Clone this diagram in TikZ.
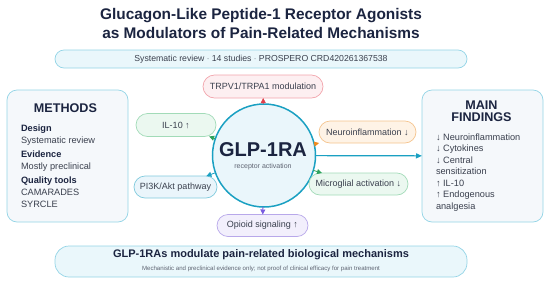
\documentclass[tikz,border=0pt]{standalone}
\usepackage{fontspec}
\setmainfont{Liberation Sans}
\usetikzlibrary{arrows.meta}
\definecolor{navy}{HTML}{1B2440}
\definecolor{txtgray}{HTML}{3A404E}
\definecolor{softgray}{HTML}{5E6472}
\definecolor{cyanline}{HTML}{93D4E6}
\definecolor{cyanfill}{HTML}{EAF7FB}
\definecolor{panelfill}{HTML}{F5F8FB}
\definecolor{glpteal}{HTML}{1AA0C2}
\definecolor{glpfill}{HTML}{EAF6FB}
\definecolor{greenline}{HTML}{A2DBB8}
\definecolor{greenfill}{HTML}{EBF8F0}
\definecolor{greentip}{HTML}{2CA25C}
\definecolor{tealline}{HTML}{80CADD}
\definecolor{tealfill}{HTML}{EAF5FB}
\definecolor{redline}{HTML}{F2A4AC}
\definecolor{redfill}{HTML}{FDEFF1}
\definecolor{redtip}{HTML}{E0404C}
\definecolor{orangeline}{HTML}{F5C48E}
\definecolor{orangefill}{HTML}{FEF3E6}
\definecolor{orangetip}{HTML}{F08A1C}
\definecolor{purpleline}{HTML}{B8A8EA}
\definecolor{purplefill}{HTML}{F2EFFC}
\definecolor{purpletip}{HTML}{7A5CE0}
\begin{document}
\begin{tikzpicture}[x=1pt, y=-1pt,
    every node/.style={inner sep=0pt, outer sep=0pt},
    pill/.style={draw, line width=0.7pt, rounded corners=11pt, minimum height=22pt, font=\fontsize{9}{10}\selectfont, text=txtgray},
    panel/.style={draw=cyanline, fill=panelfill, line width=0.7pt, rounded corners=10pt, minimum width=121pt, minimum height=132pt},
    tipline/.style={-{Triangle[length=5pt,width=5pt]}, line width=0.8pt}]
    \useasboundingbox (0,0) rectangle (550,285);

    % title and study banner
    \node[align=center, text=navy, font=\fontsize{15.4}{19}\selectfont\bfseries] (title) at (261,23.5)
        {Glucagon-Like Peptide-1 Receptor Agonists\\as Modulators of Pain-Related Mechanisms};
    \node[draw=cyanline, fill=cyanfill, line width=0.7pt, rounded corners=9pt, minimum width=412pt, minimum height=18pt,
        text=txtgray, font=\fontsize{8.7}{10}\selectfont] (banner) at (261,59)
        {Systematic review $\cdot$ 14 studies $\cdot$ PROSPERO CRD420261367538};

    % methods panel
    \node[panel] (methods) at (67.5,156) {};
    \node[text=navy, font=\fontsize{12.6}{14}\selectfont\bfseries] (methodstitle) at (65.5,108) {METHODS};
    \node[anchor=north west, align=left, text=txtgray, font=\fontsize{9.2}{12.3}\selectfont] (methodsbody) at (21,124.5)
        {\textcolor{navy}{\bfseries Design}\\Systematic review\\[1.5pt]
         \textcolor{navy}{\bfseries Evidence}\\Mostly preclinical\\[1.5pt]
         \textcolor{navy}{\bfseries Quality tools}\\CAMARADES\\SYRCLE};

    % findings panel
    \node[panel] (findings) at (482.5,156) {};
    \node[align=center, text=navy, font=\fontsize{12.6}{11.5}\selectfont\bfseries] (findingstitle) at (481.5,111) {MAIN\\FINDINGS};
    \node[anchor=north west, align=left, text=txtgray, font=\fontsize{9.2}{11.5}\selectfont] (findingsbody) at (436,133.5)
        {↓ Neuroinflammation\\↓ Cytokines\\↓ Central\\sensitization\\↑ IL-10\\↑ Endogenous\\analgesia};

    % central receptor
    \node[circle, draw=glpteal, fill=glpfill, line width=1.5pt, minimum size=103pt] (glp) at (264,155.5) {};
    \node[text=navy, font=\fontsize{20}{22}\selectfont\bfseries] (glpname) at (263,150) {GLP-1RA};
    \node[text=softgray, font=\fontsize{7}{8}\selectfont] (glpsub) at (263,167) {receptor activation};

    % mechanism pills round the receptor
    \node[pill, draw=redline, fill=redfill, minimum width=120pt, minimum height=23pt, rounded corners=11.5pt] (trpv) at (263,86.5) {TRPV1/TRPA1 modulation};
    \node[pill, draw=greenline, fill=greenfill, minimum width=80pt, minimum height=23pt, rounded corners=11.5pt] (il10) at (176,125) {IL-10 ↑};
    \node[pill, draw=tealline, fill=tealfill, minimum width=83pt] (pik) at (175.5,187) {PI3K/Akt pathway};
    \node[pill, draw=orangeline, fill=orangefill, minimum width=97pt] (neuro) at (367.5,132) {Neuroinflammation ↓};
    \node[pill, draw=greenline, fill=greenfill, minimum width=99pt] (micro) at (358.5,184) {Microglial activation ↓};
    \node[pill, draw=purpleline, fill=purplefill, minimum width=91pt] (opioid) at (262.5,225.5) {Opioid signaling ↑};

    % short arrows from the receptor
    \draw[tipline, redtip] (glp) -- (trpv);
    \draw[tipline, greentip] (glp) -- (il10);
    \draw[tipline, glpteal] (glp) -- (pik);
    \draw[tipline, orangetip] (glp) -- (neuro);
    \draw[tipline, greentip] (glp) -- (micro);
    \draw[tipline, purpletip] (glp) -- (opioid);

    % main outcome arrow
    \draw[-{Triangle[length=6pt,width=5pt]}, glpteal, line width=1.2pt] (glp) -- (findings);

    % conclusion banner
    \node[draw=cyanline, fill=cyanfill, line width=0.7pt, rounded corners=14pt, minimum width=412pt, minimum height=31pt] (concl) at (261,261.5) {};
    \node[text=navy, font=\fontsize{11}{12}\selectfont\bfseries] (conclmain) at (261,255) {GLP-1RAs modulate pain-related biological mechanisms};
    \node[text=softgray, font=\fontsize{6.1}{7}\selectfont] (conclnote) at (261,269) {Mechanistic and preclinical evidence only; not proof of clinical efficacy for pain treatment};
\end{tikzpicture}
\end{document}
